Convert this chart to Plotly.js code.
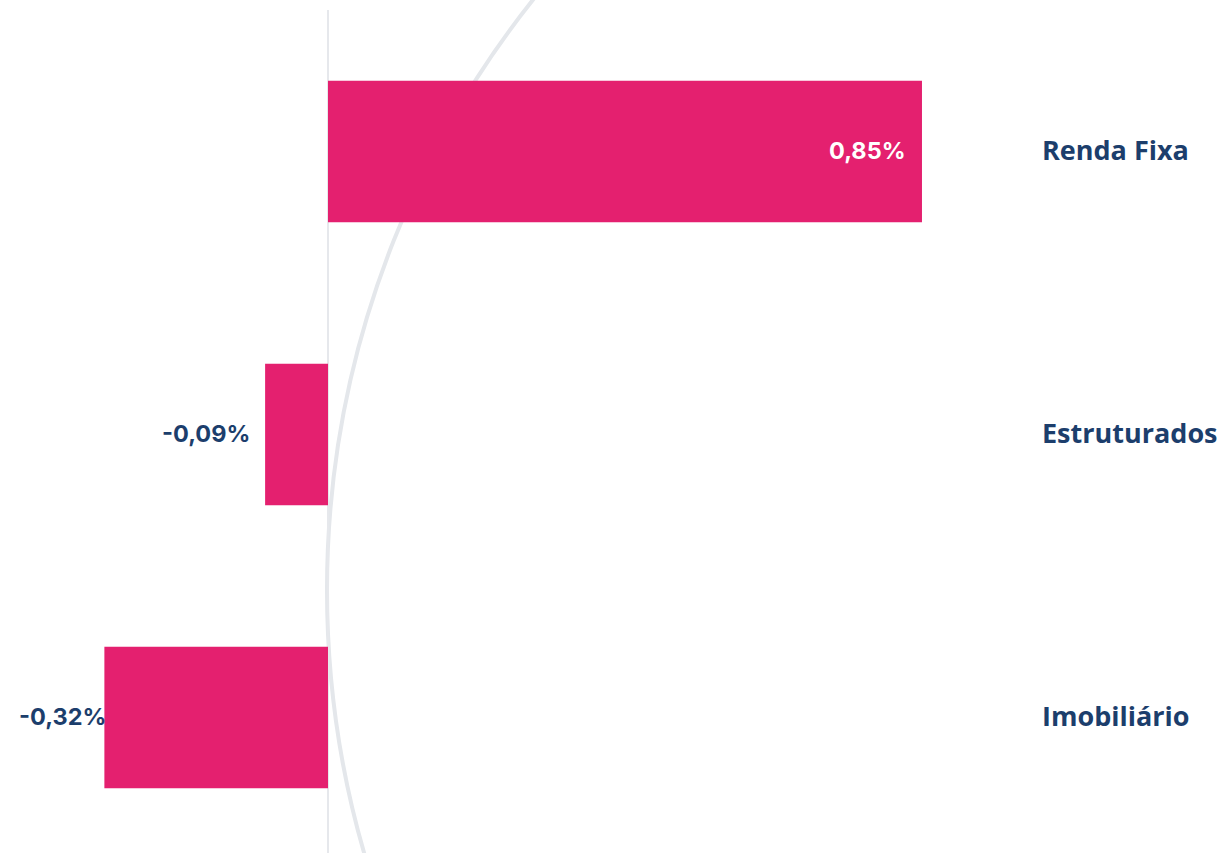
<!DOCTYPE html>
<html>
<head>
<meta charset="utf-8">
<script src="https://cdn.plot.ly/plotly-3.0.1.min.js"></script>
<style>html,body{margin:0;padding:0;background:#fff;}#chart{width:1221px;height:853px;}</style>
</head>
<body>
<div id="chart"></div>
<script>
// Data
const categories = ['Renda Fixa', 'Estruturados', 'Imobiliário'];
const values = [0.85, -0.09, -0.32];
const valueLabels = ['0,85%', '-0,09%', '-0,32%'];

// Styling (not data)
const pink = '#E4206F';
const navy = '#1C3E6C';
const catFont = '"Open Sans", Inter, sans-serif';
const valFont = 'Inter, "Open Sans", sans-serif';
const labelShift = [-14, -13, 4];

const W = 1221, H = 853, topM = 10;
const pxPerUnit = 698.8, zeroPx = 328;
const xRange = [-zeroPx / pxPerUnit, (W - zeroPx) / pxPerUnit];
const catStep = 283, firstCenter = 151.5;
const yRange = [(H - firstCenter) / catStep, -(firstCenter - topM) / catStep];

const trace = {
  type: 'bar',
  orientation: 'h',
  y: categories,
  x: values,
  marker: {color: pink},
  hoverinfo: 'skip'
};

const annotations = [];
categories.forEach((c, i) => {
  annotations.push({
    x: 1040 / W, xref: 'paper', xanchor: 'left',
    y: c, yref: 'y', yanchor: 'middle', yshift: 2,
    text: '<b>' + c + '</b>', showarrow: false,
    font: {family: catFont, size: 27, color: navy}
  });
  const v = values[i];
  annotations.push({
    x: v, xref: 'x', xanchor: 'right',
    y: c, yref: 'y', yanchor: 'middle', yshift: 1,
    xshift: labelShift[i],
    text: '<b>' + valueLabels[i] + '</b>', showarrow: false,
    font: {family: valFont, size: 23.5, color: v > 0 ? '#ffffff' : navy}
  });
});

// background decorative arc (circle), pixel geometry converted
const cx = 1275, cy = 590, r = 948;
const toX = px => (px - zeroPx) / pxPerUnit;
const toYp = py => 1 - (py - topM) / (H - topM);

const layout = {
  width: W, height: H,
  margin: {l: 0, r: 0, t: topM, b: 0, pad: 0},
  paper_bgcolor: '#ffffff', plot_bgcolor: '#ffffff',
  showlegend: false,
  bargap: 0.5,
  xaxis: {range: xRange, showgrid: false, zeroline: true, zerolinecolor: '#E6E8EC', zerolinewidth: 2,
          showticklabels: false, ticks: '', showline: false, fixedrange: true},
  yaxis: {range: yRange, showgrid: false, zeroline: false, showticklabels: false, ticks: '',
          showline: false, fixedrange: true, type: 'category'},
  shapes: [{
    type: 'circle', layer: 'below',
    xref: 'x', yref: 'paper',
    x0: toX(cx - r), x1: toX(cx + r),
    y0: toYp(cy + r), y1: toYp(cy - r),
    line: {color: '#E4E7EB', width: 4}
  }],
  annotations: annotations
};

Plotly.newPlot('chart', [trace], layout, {displayModeBar: false, staticPlot: true});
</script>
</body>
</html>
